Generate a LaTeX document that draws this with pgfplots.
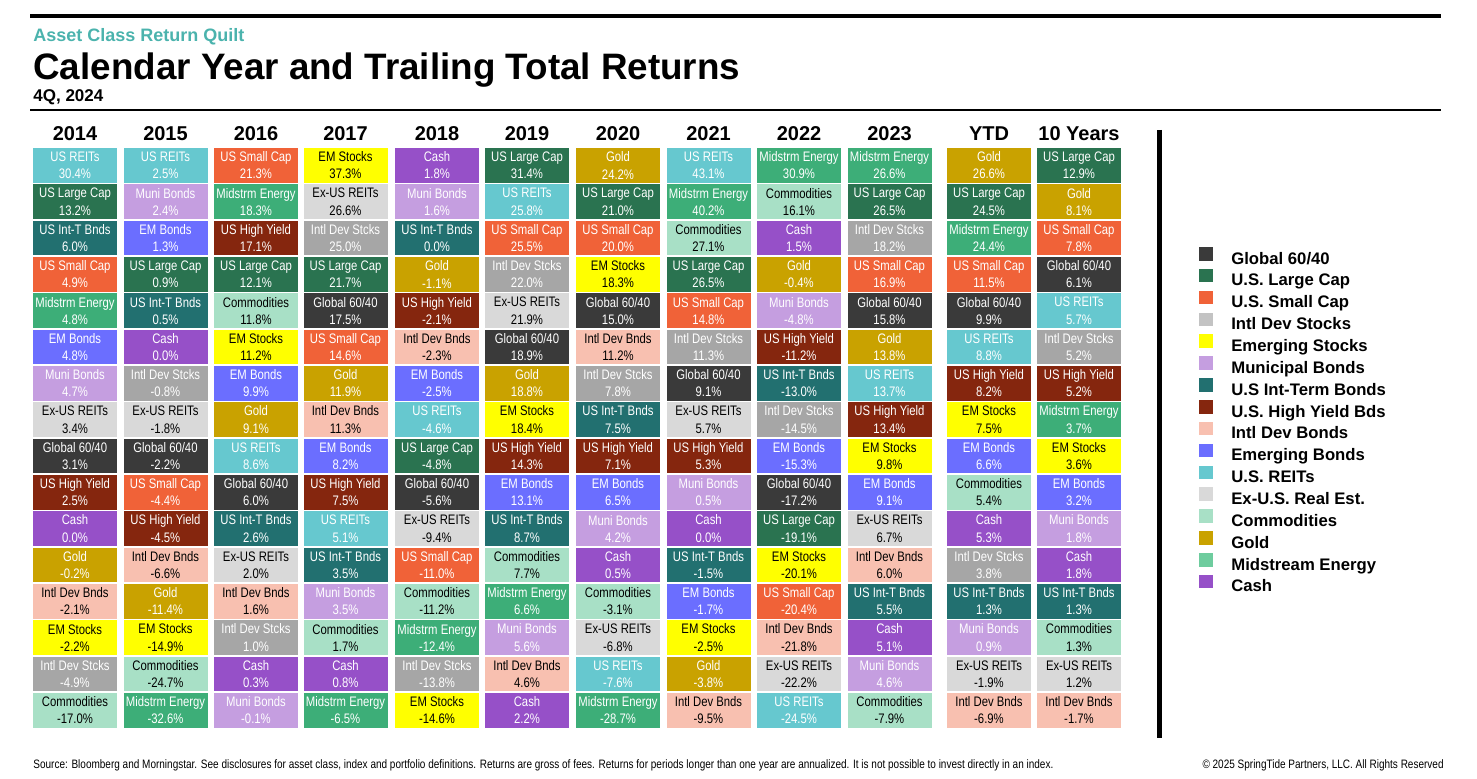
\documentclass[border=0pt]{standalone}
\usepackage{pgfplots}
\pgfplotsset{compat=1.18}
\usepackage{pgfplotstable}
\usepackage{fontspec}
\setmainfont{Liberation Sans}
\newfontfamily\narrow[FakeStretch=0.82]{Liberation Sans}

\definecolor{cG}{RGB}{58,58,58}
\definecolor{cLC}{RGB}{42,115,80}
\definecolor{cSC}{RGB}{240,98,56}
\definecolor{cIDS}{RGB}{166,166,166}
\definecolor{lIDS}{RGB}{195,195,195}
\definecolor{cEMS}{RGB}{255,255,0}
\definecolor{cMB}{RGB}{197,158,224}
\definecolor{cIT}{RGB}{34,112,112}
\definecolor{cHY}{RGB}{133,38,14}
\definecolor{cIDB}{RGB}{248,192,176}
\definecolor{cEMB}{RGB}{107,110,255}
\definecolor{cRE}{RGB}{102,200,207}
\definecolor{cXRE}{RGB}{217,217,217}
\definecolor{cCO}{RGB}{168,224,198}
\definecolor{cAU}{RGB}{201,162,0}
\definecolor{cME}{RGB}{61,174,120}
\definecolor{lME}{RGB}{110,204,158}
\definecolor{cCA}{RGB}{150,80,200}
\definecolor{teal}{RGB}{75,179,173}

\colorlet{tcG}{white}\colorlet{tcLC}{white}\colorlet{tcSC}{white}
\colorlet{tcIDS}{white}\colorlet{tcEMS}{black}\colorlet{tcMB}{white}
\colorlet{tcIT}{white}\colorlet{tcHY}{white}\colorlet{tcIDB}{black}
\colorlet{tcEMB}{white}\colorlet{tcRE}{white}\colorlet{tcXRE}{black}
\colorlet{tcCO}{black}\colorlet{tcAU}{white}\colorlet{tcME}{white}
\colorlet{tcCA}{white}

\def\nmG{Global 60/40}\def\nmLC{US Large Cap}\def\nmSC{US Small Cap}
\def\nmIDS{Intl Dev Stcks}\def\nmEMS{EM Stocks}\def\nmMB{Muni Bonds}
\def\nmIT{US Int-T Bnds}\def\nmHY{US High Yield}\def\nmIDB{Intl Dev Bnds}
\def\nmEMB{EM Bonds}\def\nmRE{US REITs}\def\nmXRE{Ex-US REITs}
\def\nmCO{Commodities}\def\nmAU{Gold}\def\nmME{Midstrm Energy}\def\nmCA{Cash}

% 2014
\pgfplotstableread{
c v
RE 30.4
LC 13.2
IT 6.0
SC 4.9
ME 4.8
EMB 4.8
MB 4.7
XRE 3.4
G 3.1
HY 2.5
CA 0.0
AU -0.2
IDB -2.1
EMS -2.2
IDS -4.9
CO -17.0
}\qA
% 2015
\pgfplotstableread{
c v
RE 2.5
MB 2.4
EMB 1.3
LC 0.9
IT 0.5
CA 0.0
IDS -0.8
XRE -1.8
G -2.2
SC -4.4
HY -4.5
IDB -6.6
AU -11.4
EMS -14.9
CO -24.7
ME -32.6
}\qB
% 2016
\pgfplotstableread{
c v
SC 21.3
ME 18.3
HY 17.1
LC 12.1
CO 11.8
EMS 11.2
EMB 9.9
AU 9.1
RE 8.6
G 6.0
IT 2.6
XRE 2.0
IDB 1.6
IDS 1.0
CA 0.3
MB -0.1
}\qC
% 2017
\pgfplotstableread{
c v
EMS 37.3
XRE 26.6
IDS 25.0
LC 21.7
G 17.5
SC 14.6
AU 11.9
IDB 11.3
EMB 8.2
HY 7.5
RE 5.1
IT 3.5
MB 3.5
CO 1.7
CA 0.8
ME -6.5
}\qD
% 2018
\pgfplotstableread{
c v
CA 1.8
MB 1.6
IT 0.0
AU -1.1
HY -2.1
IDB -2.3
EMB -2.5
RE -4.6
LC -4.8
G -5.6
XRE -9.4
SC -11.0
CO -11.2
ME -12.4
IDS -13.8
EMS -14.6
}\qE
% 2019
\pgfplotstableread{
c v
LC 31.4
RE 25.8
SC 25.5
IDS 22.0
XRE 21.9
G 18.9
AU 18.8
EMS 18.4
HY 14.3
EMB 13.1
IT 8.7
CO 7.7
ME 6.6
MB 5.6
IDB 4.6
CA 2.2
}\qF
% 2020
\pgfplotstableread{
c v
AU 24.2
LC 21.0
SC 20.0
EMS 18.3
G 15.0
IDB 11.2
IDS 7.8
IT 7.5
HY 7.1
EMB 6.5
MB 4.2
CA 0.5
CO -3.1
XRE -6.8
RE -7.6
ME -28.7
}\qG
% 2021
\pgfplotstableread{
c v
RE 43.1
ME 40.2
CO 27.1
LC 26.5
SC 14.8
IDS 11.3
G 9.1
XRE 5.7
HY 5.3
MB 0.5
CA 0.0
IT -1.5
EMB -1.7
EMS -2.5
AU -3.8
IDB -9.5
}\qH
% 2022
\pgfplotstableread{
c v
ME 30.9
CO 16.1
CA 1.5
AU -0.4
MB -4.8
HY -11.2
IT -13.0
IDS -14.5
EMB -15.3
G -17.2
LC -19.1
EMS -20.1
SC -20.4
IDB -21.8
XRE -22.2
RE -24.5
}\qI
% 2023
\pgfplotstableread{
c v
ME 26.6
LC 26.5
IDS 18.2
SC 16.9
G 15.8
AU 13.8
RE 13.7
HY 13.4
EMS 9.8
EMB 9.1
XRE 6.7
IDB 6.0
IT 5.5
CA 5.1
MB 4.6
CO -7.9
}\qJ
% YTD
\pgfplotstableread{
c v
AU 26.6
LC 24.5
ME 24.4
SC 11.5
G 9.9
RE 8.8
HY 8.2
EMS 7.5
EMB 6.6
CO 5.4
CA 5.3
IDS 3.8
IT 1.3
MB 0.9
XRE -1.9
IDB -6.9
}\qK
% 10 Years
\pgfplotstableread{
c v
LC 12.9
AU 8.1
SC 7.8
G 6.1
RE 5.7
IDS 5.2
HY 5.2
ME 3.7
EMS 3.6
EMB 3.2
MB 1.8
CA 1.8
IT 1.3
CO 1.3
XRE 1.2
IDB -1.7
}\qL

\makeatletter
\pgfdeclareplotmark{cell}{%
  \ifdefined\pgfplotspointmeta
    \@ifundefinedcolor{c\pgfplotspointmeta}{}{\pgfsetfillcolor{c\pgfplotspointmeta}}%
  \fi
  \pgfpathrectangle{\pgfpoint{-21pt}{-8.7pt}}{\pgfpoint{42pt}{17.4pt}}\pgfusepath{fill}}
\makeatother

\newcommand\cellval[1]{\pgfmathprintnumber[fixed,fixed zerofill,precision=1,assume math mode=true]{#1}\%}

\pgfplotsset{
  cellplot/.style={scatter, only marks, mark=cell, forget plot,
    x filter/.expression={#1},
    y filter/.expression={612.6-36.33*\coordindex},
    scatter src=explicit symbolic,
    scatter/classes={G={color=cG},LC={color=cLC},SC={color=cSC},IDS={color=cIDS},
      EMS={color=cEMS},MB={color=cMB},IT={color=cIT},HY={color=cHY},IDB={color=cIDB},
      EMB={color=cEMB},RE={color=cRE},XRE={color=cXRE},CO={color=cCO},AU={color=cAU},
      ME={color=cME},CA={color=cCA}},
    visualization depends on={\thisrow{v}\as\val},
    nodes near coords={\textcolor{tc\pgfplotspointmeta}{\csname nm\pgfplotspointmeta\endcsname}\\\textcolor{tc\pgfplotspointmeta}{\cellval{\val}}},
    nodes near coords align={center},
    every node near coord/.append style={anchor=center, align=center, inner sep=0pt,
      font=\narrow\fontsize{6.9}{8.65}\selectfont},
  },
  legsq/.style={legend image code/.code={\fill[#1] (0pt,-0.2pt) rectangle (6.25pt,6.05pt);}},
}
\tikzset{yearlab/.style={anchor=base, inner sep=0pt, font=\bfseries\fontsize{10}{12}\selectfont}}

\begin{document}
\begin{tikzpicture}
\begin{axis}[
  scale only axis, width=738.5pt, height=389pt,
  xmin=0, xmax=1477, ymin=0, ymax=778,
  hide axis, clip=false,
  legend cell align=left,
  legend style={at={(0.8118,0.6825)}, anchor=north west, draw=none, fill=none,
    inner sep=0pt, outer sep=0pt, row sep=0.43pt,
    font=\bfseries\fontsize{8.35}{9}\selectfont,
    nodes={inner sep=0pt, text height=6.5pt, text depth=2pt},
    /tikz/every odd column/.append style={column sep=9.5pt}},
]
\addplot[cellplot=75]    table[x=v, y=v, meta=c]{\qA};
\addplot[cellplot=165.5] table[x=v, y=v, meta=c]{\qB};
\addplot[cellplot=256]   table[x=v, y=v, meta=c]{\qC};
\addplot[cellplot=345.5] table[x=v, y=v, meta=c]{\qD};
\addplot[cellplot=437]   table[x=v, y=v, meta=c]{\qE};
\addplot[cellplot=527]   table[x=v, y=v, meta=c]{\qF};
\addplot[cellplot=618]   table[x=v, y=v, meta=c]{\qG};
\addplot[cellplot=708.5] table[x=v, y=v, meta=c]{\qH};
\addplot[cellplot=799]   table[x=v, y=v, meta=c]{\qI};
\addplot[cellplot=889.5] table[x=v, y=v, meta=c]{\qJ};
\addplot[cellplot=989]   table[x=v, y=v, meta=c]{\qK};
\addplot[cellplot=1079]  table[x=v, y=v, meta=c]{\qL};

\addlegendimage{legsq=cG}\addlegendentry{Global 60/40}
\addlegendimage{legsq=cLC}\addlegendentry{U.S. Large Cap}
\addlegendimage{legsq=cSC}\addlegendentry{U.S. Small Cap}
\addlegendimage{legsq=lIDS}\addlegendentry{Intl Dev Stocks}
\addlegendimage{legsq=cEMS}\addlegendentry{Emerging Stocks}
\addlegendimage{legsq=cMB}\addlegendentry{Municipal Bonds}
\addlegendimage{legsq=cIT}\addlegendentry{U.S Int-Term Bonds}
\addlegendimage{legsq=cHY}\addlegendentry{U.S. High Yield Bds}
\addlegendimage{legsq=cIDB}\addlegendentry{Intl Dev Bonds}
\addlegendimage{legsq=cEMB}\addlegendentry{Emerging Bonds}
\addlegendimage{legsq=cRE}\addlegendentry{U.S. REITs}
\addlegendimage{legsq=cXRE}\addlegendentry{Ex-U.S. Real Est.}
\addlegendimage{legsq=cCO}\addlegendentry{Commodities}
\addlegendimage{legsq=cAU}\addlegendentry{Gold}
\addlegendimage{legsq=lME}\addlegendentry{Midstream Energy}
\addlegendimage{legsq=cCA}\addlegendentry{Cash}

% rules
\draw[line width=2pt] (axis cs:30,762) -- (axis cs:1441,762);
\draw[line width=1.2pt] (axis cs:30,668) -- (axis cs:1441,668);
\draw[line width=2.5pt] (axis cs:1159.5,648) -- (axis cs:1159.5,40);

% titles
\node[anchor=base west, inner sep=0pt, text=teal, font=\bfseries\fontsize{9}{10}\selectfont] at (axis cs:33,736) {Asset Class Return Quilt};
\node[anchor=base west, inner sep=0pt, font=\bfseries\fontsize{18.4}{20}\selectfont] at (axis cs:33,698) {Calendar Year and Trailing Total Returns};
\node[anchor=base west, inner sep=0pt, font=\bfseries\fontsize{8.5}{10}\selectfont] at (axis cs:33,676) {4Q, 2024};

% column headers
\node[yearlab] at (axis cs:75,637) {2014};
\node[yearlab] at (axis cs:165.5,637) {2015};
\node[yearlab] at (axis cs:256,637) {2016};
\node[yearlab] at (axis cs:345.5,637) {2017};
\node[yearlab] at (axis cs:437,637) {2018};
\node[yearlab] at (axis cs:527,637) {2019};
\node[yearlab] at (axis cs:618,637) {2020};
\node[yearlab] at (axis cs:708.5,637) {2021};
\node[yearlab] at (axis cs:799,637) {2022};
\node[yearlab] at (axis cs:889.5,637) {2023};
\node[yearlab] at (axis cs:989,637) {YTD};
\node[yearlab] at (axis cs:1079,637) {10 Years};

% footer
\node[anchor=base west, inner sep=0pt, font=\narrow\fontsize{6.1}{7}\selectfont] at (axis cs:33,10) {Source: Bloomberg and Morningstar. See disclosures for asset class, index and portfolio definitions. Returns are gross of fees. Returns for periods longer than one year are annualized. It is not possible to invest directly in an index.};
\node[anchor=base east, inner sep=0pt, font=\narrow\fontsize{6.1}{7}\selectfont] at (axis cs:1444,10) {\textcopyright{} 2025 SpringTide Partners, LLC. All Rights Reserved};
\end{axis}
\pgfresetboundingbox
\path (0,0) rectangle (738.5pt,389pt);
\end{tikzpicture}
\end{document}
